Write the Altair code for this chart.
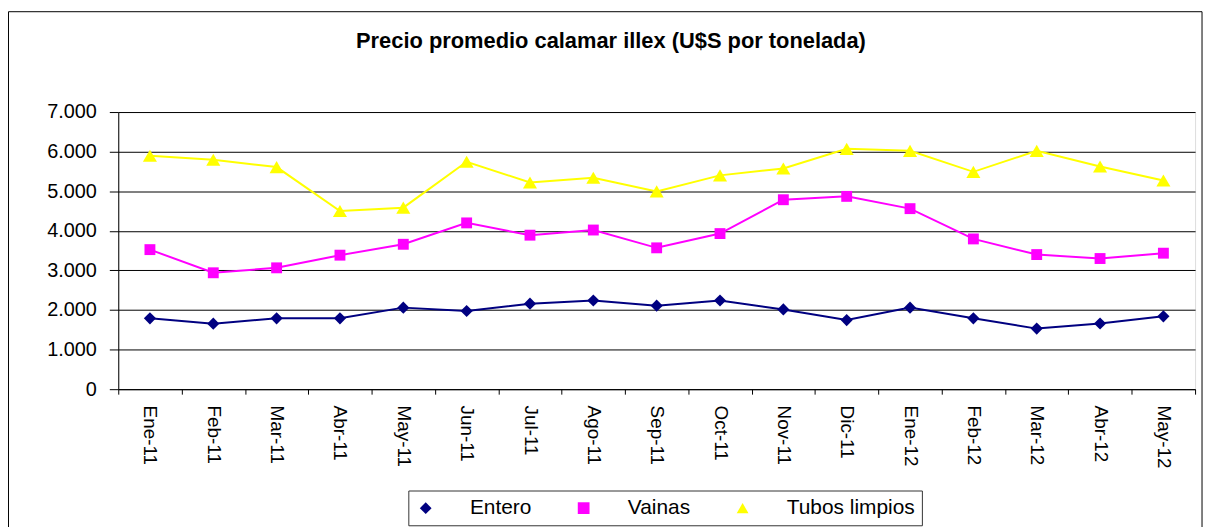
import altair as alt
import pandas as pd

meses = ["Ene-11", "Feb-11", "Mar-11", "Abr-11", "May-11", "Jun-11", "Jul-11", "Ago-11",
         "Sep-11", "Oct-11", "Nov-11", "Dic-11", "Ene-12", "Feb-12", "Mar-12", "Abr-12", "May-12"]
entero = [1790, 1655, 1790, 1790, 2060, 1975, 2160, 2240, 2110, 2240, 2015, 1745, 2060, 1790, 1530, 1660, 1840]
vainas = [3525, 2940, 3065, 3385, 3660, 4200, 3890, 4020, 3570, 3930, 4785, 4870, 4560, 3795, 3400, 3300, 3435]
tubos = [5895, 5795, 5610, 4500, 4585, 5745, 5220, 5340, 4995, 5400, 5575, 6070, 6020, 5490, 6020, 5625, 5270]

series = ["Entero", "Vainas", "Tubos limpios"]
colores = ["#000080", "#FF00FF", "#FFFF00"]
formas = ["diamond", "square", "triangle-up"]
tamanos = [150, 120, 200]

rows = []
for nombre, vals in zip(series, [entero, vainas, tubos]):
    for m, v in zip(meses, vals):
        rows.append({"mes": m, "valor": v, "serie": nombre})
df = pd.DataFrame(rows)

FONT = "Liberation Sans"

x_enc = alt.X("mes:N", sort=meses, title=None,
              scale=alt.Scale(type="band", paddingInner=0, paddingOuter=0),
              axis=alt.Axis(labelAngle=90, labelFontSize=19, labelFont=FONT, labelColor="black",
                            tickBand="extent", tickSize=5, tickColor="black", domainColor="black",
                            labelPadding=11, grid=False))
y_enc = alt.Y("valor:Q", title=None,
              scale=alt.Scale(domain=[0, 7000], nice=False),
              axis=alt.Axis(values=[0, 1000, 2000, 3000, 4000, 5000, 6000, 7000],
                            labelExpr="replace(format(datum.value, ','), ',', '.')",
                            labelFontSize=20, labelFont=FONT, labelColor="black",
                            tickSize=9, tickColor="black", domainColor="black",
                            gridColor="black", gridWidth=1, labelPadding=13))

color_enc = alt.Color("serie:N", scale=alt.Scale(domain=series, range=colores), legend=None)

marco = alt.Chart(pd.DataFrame({"a": [0]})).mark_rect(
    fill="white", fillOpacity=0, stroke="black", strokeWidth=1
).encode(x=alt.value(-110.5), x2=alt.value(1091), y=alt.value(-101), y2=alt.value(700))

lineas = alt.Chart(df).mark_line(strokeWidth=2).encode(
    x=x_enc, y=y_enc, color=color_enc, detail="serie:N")

capas_puntos = []
for nombre, forma, tam in zip(series, formas, tamanos):
    capas_puntos.append(
        alt.Chart(df).transform_filter(alt.datum.serie == nombre)
        .mark_point(filled=True, opacity=1, shape=forma, size=tam)
        .encode(x=x_enc, y=y_enc, color=color_enc)
    )

leg = alt.Legend(title=None, orient="none", legendX=292, legendY=381,
                 direction="horizontal", symbolSize=140, symbolStrokeWidth=0,
                 labelFontSize=21, labelFont=FONT, labelColor="black",
                 labelOffset=34, columnPadding=42,
                 strokeColor="#333333", padding=7, fillColor="white", symbolOpacity=1)

leyenda = alt.Chart(df).transform_filter("datum.valor < 0").transform_calculate(
    serieL="datum.serie").mark_point(filled=True, opacity=1).encode(
    x=x_enc, y=y_enc,
    color=alt.Color("serieL:N", scale=alt.Scale(domain=series, range=colores), legend=leg),
    shape=alt.Shape("serieL:N", scale=alt.Scale(domain=series, range=formas), legend=leg),
)

chart = alt.layer(marco, lineas, *capas_puntos, leyenda).resolve_scale(
    color="independent", shape="independent"
).properties(
    width=1084, height=279,
    title=alt.TitleParams("Precio promedio calamar illex (U$S por tonelada)",
                          font=FONT, fontSize=22, fontWeight="bold", color="black",
                          anchor="middle", frame="group", dx=-46, offset=-42),
    padding={"left": 111, "top": 103, "right": 10, "bottom": 137},
    autosize=alt.AutoSizeParams(type="none"),
).configure_view(fill="#C0C0C0", stroke="#808080", strokeWidth=1.5).configure(background="white")

chart.save("out.html", embed_options={"renderer": "svg", "actions": False})
